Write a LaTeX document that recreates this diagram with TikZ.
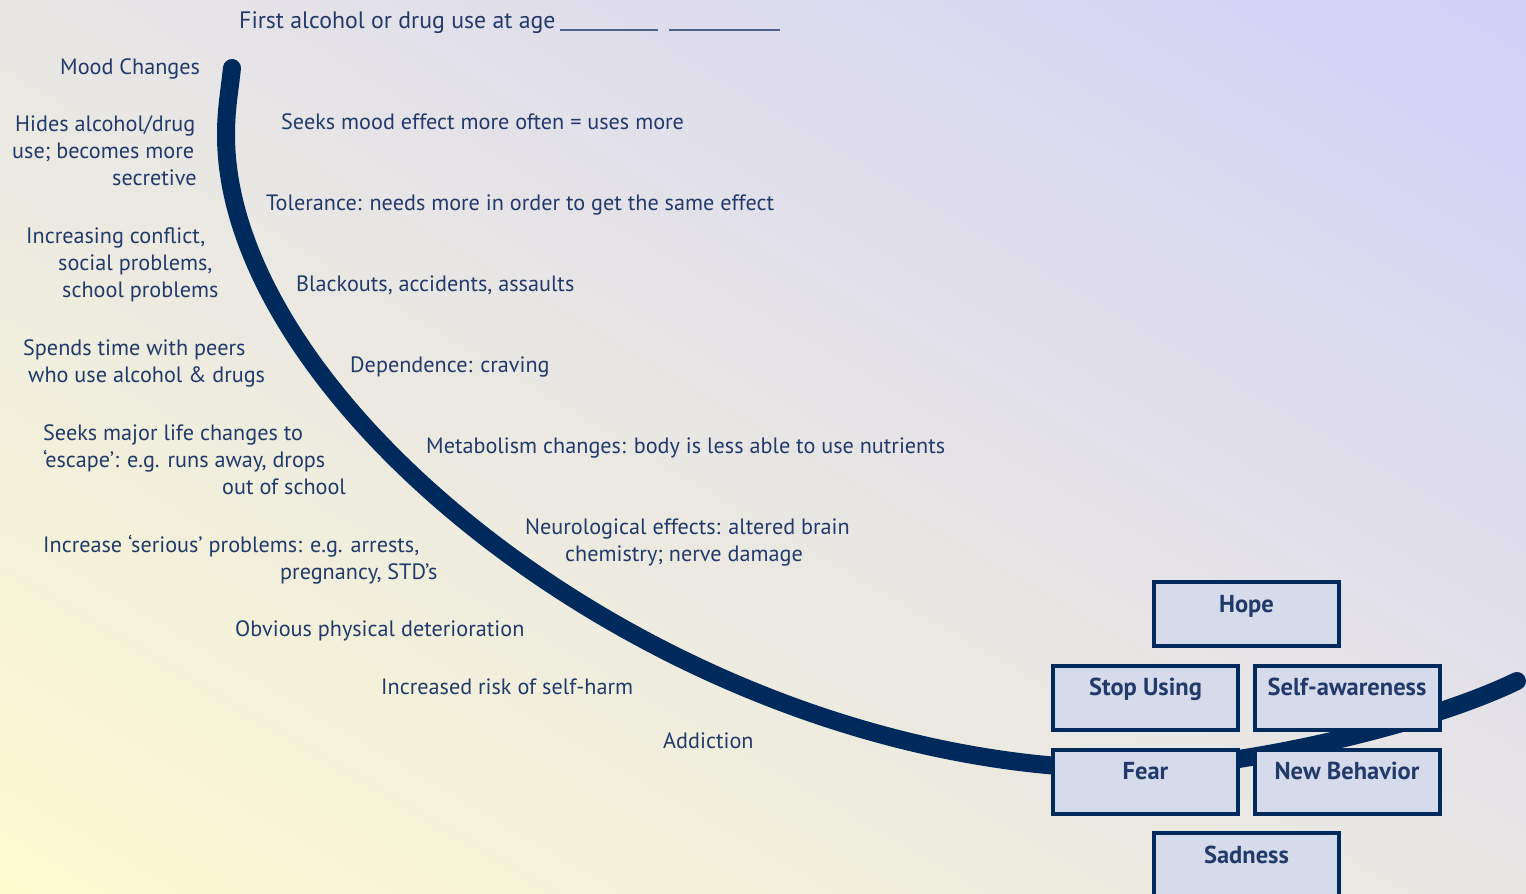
\documentclass[tikz,border=0pt]{standalone}
\usepackage{fontspec}
\setmainfont{PT Sans}
\usetikzlibrary{shadings}
\definecolor{navy}{HTML}{002A5C}
\definecolor{txt}{HTML}{223A6A}
\definecolor{boxfill}{HTML}{D5DBEA}
\definecolor{bgyellow}{HTML}{FDFBD0}
\definecolor{bgblue}{HTML}{D2D0F8}
\definecolor{bgmid}{HTML}{E8E6E4}
\begin{document}
\begin{tikzpicture}[x=1pt,y=-1pt,
  lbl/.style={text=txt, font=\fontsize{22.2}{26}\selectfont, inner sep=0pt, anchor=base west},
  stagebox/.style={draw=navy, line width=4pt, fill=boxfill, minimum width=185pt, minimum height=64pt, inner sep=0pt},
  boxtxt/.style={text=txt, font=\fontsize{24.5}{28}\selectfont\bfseries, inner sep=0pt, anchor=base},
  blank/.style={draw=txt!80, line width=1.2pt}]
\useasboundingbox (0,0) rectangle (1526,894);
\shade[lower left=bgyellow, upper right=bgblue, upper left=bgmid, lower right=bgmid] (0,0) rectangle (1526,894);

% curve
\draw[navy, line width=18pt, line cap=round]
  (232,68) .. controls (229,95) and (226,110) .. (226,135)
  .. controls (226,410) and (680,769) .. (1130,769)
  .. controls (1230,769) and (1420,728) .. (1517,681);

% boxes
\node[stagebox] (hope) at (1246.5,614) {};
\node[stagebox] (stop) at (1145.5,697.5) {};
\node[stagebox] (self) at (1347,697.5) {};
\node[stagebox] (fear) at (1145.5,781.5) {};
\node[stagebox] (newb) at (1347,781.5) {};
\node[stagebox] (sad) at (1246.5,865) {};
\node[boxtxt] (thope) at ([yshift=-32pt]hope.north) {Hope};
\node[boxtxt] (tstop) at ([yshift=-32pt]stop.north) {Stop Using};
\node[boxtxt] (tself) at ([yshift=-32pt]self.north) {Self-awareness};
\node[boxtxt] (tfear) at ([yshift=-32pt]fear.north) {Fear};
\node[boxtxt] (tnewb) at ([yshift=-32pt]newb.north) {New Behavior};
\node[boxtxt] (tsad) at ([yshift=-32pt]sad.north) {Sadness};

% title
\node[lbl, font=\fontsize{23.8}{28}\selectfont] (title) at (239,28) {First alcohol or drug use at age};
\coordinate (b1s) at (560,30); \coordinate (b1e) at (658,30);
\coordinate (b2s) at (669,30); \coordinate (b2e) at (780,30);
\draw[blank] (b1s) -- (b1e);
\draw[blank] (b2s) -- (b2e);

% left column
\node[lbl] (l1) at (60,74) {Mood Changes};
\node[lbl] (l2a) at (15,131) {Hides alcohol/drug};
\node[lbl] (l2b) at (12,158) {use; becomes more};
\node[lbl] (l2c) at (112,185) {secretive};
\node[lbl] (l3a) at (26,243) {Increasing conflict,};
\node[lbl] (l3b) at (58,270) {social problems,};
\node[lbl] (l3c) at (62,297) {school problems};
\node[lbl] (l4a) at (23,355) {Spends time with peers};
\node[lbl] (l4b) at (28,382) {who use alcohol \& drugs};
\node[lbl] (l5a) at (43,440) {Seeks major life changes to};
\node[lbl] (l5b) at (43,467) {‘escape’: e.g. runs away, drops};
\node[lbl] (l5c) at (222,494) {out of school};
\node[lbl] (l6a) at (43,552) {Increase ‘serious’ problems: e.g. arrests,};
\node[lbl] (l6b) at (280,579) {pregnancy, STD’s};
\node[lbl] (l7) at (235,636) {Obvious physical deterioration};
\node[lbl] (l8) at (381,694) {Increased risk of self-harm};
\node[lbl] (l9) at (663,748) {Addiction};

% right column
\node[lbl] (r1) at (281,129) {Seeks mood effect more often = uses more};
\node[lbl] (r2) at (266,210) {Tolerance: needs more in order to get the same effect};
\node[lbl] (r3) at (296,291) {Blackouts, accidents, assaults};
\node[lbl] (r4) at (350,372) {Dependence: craving};
\node[lbl] (r5) at (426,453) {Metabolism changes: body is less able to use nutrients};
\node[lbl] (r6a) at (525,534) {Neurological effects: altered brain};
\node[lbl] (r6b) at (565,561) {chemistry; nerve damage};
\end{tikzpicture}
\end{document}
